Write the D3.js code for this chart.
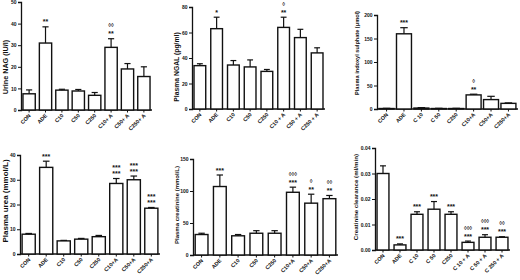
<!DOCTYPE html>
<html><head><meta charset="utf-8">
<script src="https://cdn.jsdelivr.net/npm/d3@7"></script>
<style>
body{margin:0;background:#fff}
svg{display:block}
text{font-family:Arial,"Liberation Sans",sans-serif;font-weight:bold;fill:#111}
</style>
</head><body>
<svg id="c" width="520" height="280"></svg>
<script>
// ---- data ----
const cats1 = ["CON","ADE","C10","C50","C250","C10+ A","C50+ A","C250+ A"];
const vals1 = [7.5,31,9.2,8.8,6.8,29,19,15.5];
const errs1 = [1.8,7.5,0.4,0.7,1.3,4,2.5,4.5];
const stars1 = ["","**","","","","**","",""];
const diam1 = ["","","","","","◊◊","",""];
const ticks1 = [0,10,20,30,40,50];

const cats2 = ["CON","ADE","C10","C50","C250","C10 + A","C50 + A","C250 + A"];
const vals2 = [34,63,34.5,33,29.5,64,56,44];
const errs2 = [1.5,9,3.5,5.5,1.5,8,6.5,4];
const stars2 = ["","*","","","","**","",""];
const diam2 = ["","","","","","◊","",""];
const ticks2 = [0,20,40,60,80];

const cats3 = ["CON","ADE","C 10","C 50","C250","C10+A","C50+A","C250+A"];
const vals3 = [1,160,2,1,1,30,20,12];
const errs3 = [0.5,13,1,0.5,0.5,1.5,7,1];
const stars3 = ["","***","","","","**","",""];
const diam3 = ["","","","","","◊","",""];
const ticks3 = [0,50,100,150,200];

const cats4 = ["CON","ADE","C10","C50","C250","C10+A","C50+A","C250+A"];
const vals4 = [8,35,5.3,6,7,28.5,30,18.5];
const errs4 = [0.3,2.5,0.2,0.3,0.5,2,1.5,0.3];
const stars4 = ["","***","","","","***","***","***"];
const diam4 = ["","","","","","***","***","***"];
const ticks4 = [0,10,20,30,40];

const cats5 = ["CON","ADE","C10","C50","C250","C10+A","C50+A","C250+A"];
const vals5 = [32,107,30,34,34,98,81,88];
const errs5 = [2,18,2,4,4,8,14,5];
const stars5 = ["","***","","","","***","**","**"];
const diam5 = ["","","","","","◊◊◊","◊","◊◊"];
const ticks5 = [0,50,100,150];

const cats6 = ["CON","ADE","C 10","C 50","C250","C 10 + A","C 50 + A","C 250 + A"];
const vals6 = [0.030,0.002,0.014,0.016,0.014,0.003,0.005,0.005];
const errs6 = [0.003,0.0004,0.001,0.003,0.001,0.0005,0.001,0.0002];
const stars6 = ["","***","***","***","***","***","***","***"];
const diam6 = ["","","","","","◊◊◊","◊◊◊","◊◊"];
const ticks6 = [0,0.01,0.02,0.03,0.04];

const titles = ["Urine NAG (IU/l)","Plasma NGAL (pg/ml)","Plasma indoxyl sulphate (μmol)",
  "Plasma urea (mmol/L)","Plasma creatinine (mmol/L)","Creatinine clearance (ml/min)"];

// ---- layout ----
const panels = [
  {cats:cats1,vals:vals1,errs:errs1,stars:stars1,diam:diam1,ticks:ticks1,fmt:d3.format("d"),
   x0:21,x1:152,yT:2,yB:110,lx:8,ly:67,lfs:7.2,pad:0.25},
  {cats:cats2,vals:vals2,errs:errs2,stars:stars2,diam:diam2,ticks:ticks2,fmt:d3.format("d"),
   x0:192,x1:325,yT:7,yB:109,lx:179,ly:67,lfs:6.8,pad:0.3},
  {cats:cats3,vals:vals3,errs:errs3,stars:stars3,diam:diam3,ticks:ticks3,fmt:d3.format("d"),
   x0:377,x1:518,yT:15,yB:109,lx:359,ly:53,lfs:5.6,pad:0.14},
  {cats:cats4,vals:vals4,errs:errs4,stars:stars4,diam:diam4,ticks:ticks4,fmt:d3.format("d"),
   x0:20,x1:160,yT:155,yB:254,lx:8,ly:201,lfs:8,pad:0.25},
  {cats:cats5,vals:vals5,errs:errs5,stars:stars5,diam:diam5,ticks:ticks5,fmt:d3.format("d"),
   x0:193,x1:338,yT:159,yB:255,lx:179,ly:205,lfs:6,pad:0.3},
  {cats:cats6,vals:vals6,errs:errs6,stars:stars6,diam:diam6,ticks:ticks6,fmt:d3.format(".2f"),
   x0:375,x1:510,yT:148,yB:250,lx:358,ly:197,lfs:6.2,pad:0.3}
];

const svg = d3.select("#c");

panels.forEach((p,pi)=>{
  const g = svg.append("g");
  const y = d3.scaleLinear().domain([0,p.ticks[p.ticks.length-1]]).range([p.yB,p.yT]);
  const x = d3.scaleBand().domain(p.cats).range([p.x0,p.x1]).paddingInner(p.pad).paddingOuter(0.12);

  // y axis
  const ya = g.append("g").attr("transform",`translate(${p.x0},0)`)
    .call(d3.axisLeft(y).tickValues(p.ticks).tickFormat(p.fmt).tickSize(3).tickPadding(1.5));
  ya.select(".domain").attr("stroke","#111").attr("stroke-width",1.3);
  ya.selectAll(".tick line").attr("stroke","#111").attr("stroke-width",1);
  ya.selectAll(".tick text").attr("font-size",5).attr("fill","#222");

  // x axis
  const xa = g.append("g").attr("transform",`translate(0,${p.yB})`)
    .call(d3.axisBottom(x).tickSize(2.5).tickSizeOuter(0).tickFormat(""));
  xa.select(".domain").attr("stroke","#111").attr("stroke-width",1.3)
    .attr("d",`M${p.x0},0H${p.x1}`);
  xa.selectAll(".tick line").attr("stroke","#111").attr("stroke-width",1);

  // x labels rotated
  g.selectAll("text.xl").data(p.cats).enter().append("text")
    .attr("class","xl")
    .attr("transform",d=>`translate(${x(d)+x.bandwidth()/2+2},${p.yB+6}) rotate(-45)`)
    .attr("text-anchor","end").attr("font-size",5.4).attr("fill","#222")
    .text(d=>d);

  // bars
  g.selectAll("rect.b").data(p.vals).enter().append("rect")
    .attr("x",(d,i)=>x(p.cats[i])).attr("width",x.bandwidth())
    .attr("y",d=>y(d)).attr("height",d=>p.yB-y(d))
    .attr("fill","#fff").attr("stroke","#111").attr("stroke-width",1.4);

  // error bars + significance marks
  const cw = x.bandwidth()*0.5;
  p.vals.forEach((v,i)=>{
    const cx = x(p.cats[i])+x.bandwidth()/2;
    const top = y(v+p.errs[i]);
    g.append("line").attr("x1",cx).attr("x2",cx).attr("y1",y(v)).attr("y2",top)
      .attr("stroke","#111").attr("stroke-width",1.2);
    g.append("line").attr("x1",cx-cw/2).attr("x2",cx+cw/2).attr("y1",top).attr("y2",top)
      .attr("stroke","#111").attr("stroke-width",1.2);
    if(p.stars[i]){
      g.append("text").attr("x",cx).attr("y",top-2.5).attr("text-anchor","middle")
        .attr("font-size",7).attr("fill","#333").text(p.stars[i]);
    }
    if(p.diam[i]){
      const isStar = p.diam[i][0]==="*";
      g.append("text").attr("x",cx).attr("y",isStar ? top-8.5 : top-11.5).attr("text-anchor","middle")
        .attr("font-size",isStar?7:5.5).attr("fill",isStar?"#333":"#666").text(p.diam[i]);
    }
  });

  // y label
  g.append("text").attr("transform",`translate(${p.lx},${p.ly}) rotate(-90)`)
    .attr("text-anchor","middle").attr("font-size",p.lfs).attr("fill","#222").text(titles[pi]);
});
</script>
</body></html>
